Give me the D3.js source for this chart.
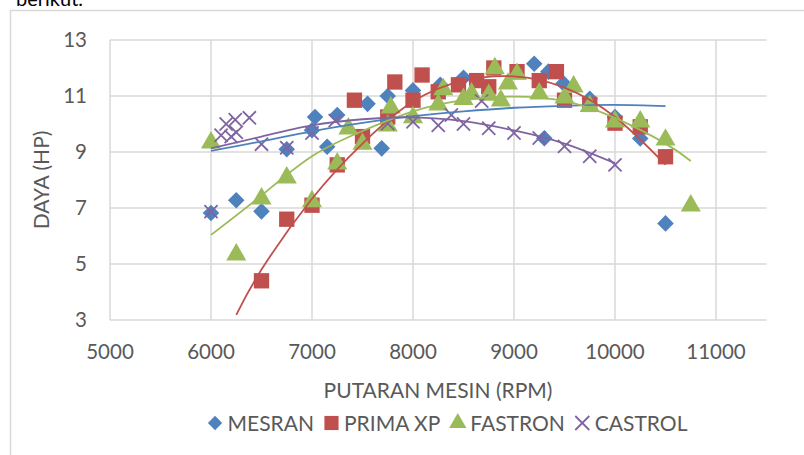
<!DOCTYPE html>
<html>
<head>
<meta charset="utf-8">
<script src="https://cdn.jsdelivr.net/npm/d3@7.9.0/dist/d3.min.js"></script>
<style>
  body { margin: 0; background: #fff; }
  svg { display: block; font-family: Lato, "Open Sans", sans-serif; }
</style>
</head>
<body>
<svg id="chart" width="804" height="455"></svg>
<script>
const seriesNames = ["MESRAN", "PRIMA XP", "FASTRON", "CASTROL"];
const seriesColors = ["#4F81BD", "#C0504D", "#9BBB59", "#8064A2"];
const xTicks = [5000, 6000, 7000, 8000, 9000, 10000, 11000];
const yTicks = [3, 5, 7, 9, 11, 13];

// [rpm, hp]
const mesran = [
  [6000, 6.82], [6250, 7.28], [6500, 6.88], [6750, 9.1], [7000, 9.78], [7030, 10.25],
  [7150, 9.19], [7250, 10.32], [7550, 10.72], [7690, 9.13], [7750, 11.0], [8000, 11.2],
  [8270, 11.4], [8500, 11.65], [9200, 12.15], [9300, 9.49], [9340, 11.87], [9490, 11.45],
  [9750, 10.9], [10000, 10.25], [10250, 9.48], [10500, 6.45]
];
const prima = [
  [6500, 4.4], [6750, 6.6], [7000, 7.1], [7250, 8.54], [7420, 10.85], [7500, 9.55],
  [7750, 10.25], [7820, 11.5], [8000, 10.85], [8090, 11.75], [8250, 11.15], [8450, 11.4],
  [8630, 11.55], [8750, 11.33], [8800, 12.0], [9030, 11.87], [9250, 11.55], [9420, 11.87],
  [9500, 10.85], [9750, 10.7], [10000, 10.03], [10250, 9.9], [10500, 8.83]
];
const fastron = [
  [6000, 9.3], [6250, 5.3], [6500, 7.3], [6750, 8.05], [7000, 7.2], [7250, 8.55],
  [7360, 9.8], [7500, 9.25], [7750, 9.9], [7780, 10.55], [8000, 10.2], [8250, 10.65],
  [8300, 11.2], [8500, 10.85], [8580, 11.05], [8750, 11.0], [8810, 11.95], [8870, 10.8],
  [8940, 11.4], [9030, 11.75], [9250, 11.05], [9500, 10.9], [9590, 11.3], [9750, 10.6],
  [10000, 10.05], [10250, 10.05], [10500, 9.4], [10750, 7.05]
];
const castrol = [
  [6000, 6.87], [6100, 9.6], [6150, 10.0], [6200, 9.55], [6240, 10.15], [6250, 9.7],
  [6380, 10.22], [6500, 9.28], [6750, 9.15], [7000, 9.68], [7230, 10.12], [7750, 10.02],
  [8000, 10.08], [8250, 9.95], [8380, 10.32], [8500, 10.0], [8680, 10.82], [8750, 9.85],
  [9000, 9.68], [9250, 9.5], [9500, 9.2], [9750, 8.85], [10000, 8.54]
];

// trendline values
const mesranTrend = [
  [6000, 9.04], [6500, 9.38], [7000, 9.74], [7500, 10.04], [8000, 10.28], [8500, 10.45],
  [9000, 10.58], [9500, 10.65], [10000, 10.68], [10500, 10.64]
];
const primaTrend = [
  [6250, 3.18], [6500, 4.8], [7000, 7.33], [7500, 9.3], [8000, 10.8], [8500, 11.55],
  [9000, 11.7], [9500, 11.3], [10000, 10.25], [10500, 8.55]
];
const fastronTrend = [
  [6000, 6.04], [6500, 7.45], [7000, 8.85], [7500, 9.75], [8000, 10.45], [8500, 10.85],
  [9000, 10.98], [9500, 10.82], [10000, 10.22], [10500, 9.3], [10750, 8.68]
];
const castrolTrend = [
  [6000, 9.13], [6500, 9.55], [7000, 9.95], [7500, 10.17], [8000, 10.24], [8500, 10.1],
  [9000, 9.77], [9500, 9.3], [10000, 8.6]
];

const allSeries = [mesran, prima, fastron, castrol];
const allTrends = [mesranTrend, primaTrend, fastronTrend, castrolTrend];
const symbols = [d3.symbolDiamond2, d3.symbolSquare, d3.symbolTriangle, d3.symbolX];

const svg = d3.select("#chart");
const grid = "#D9D9D9";
const textColor = "#595959";

const x = d3.scaleLinear().domain([5000, 11500]).range([110, 766.5]);
const y = d3.scaleLinear().domain([3, 13]).range([320, 40]);

// outer frame and clipped caption above it
svg.append("text").attr("x", 16).attr("y", 6).attr("font-size", 20).attr("fill", "#000")
  .text("berikut.");
svg.append("rect").attr("x", 10.5).attr("y", 10.5).attr("width", 820).attr("height", 470)
  .attr("fill", "#fff").attr("stroke", grid).attr("stroke-width", 1.5);

// gridlines
svg.append("g").selectAll("line").data(yTicks).join("line")
  .attr("x1", x(5000)).attr("x2", x(11500))
  .attr("y1", d => y(d)).attr("y2", d => y(d))
  .attr("stroke", grid).attr("stroke-width", 1.5);
svg.append("g").selectAll("line").data(xTicks).join("line")
  .attr("x1", d => x(d)).attr("x2", d => x(d))
  .attr("y1", y(13)).attr("y2", y(3))
  .attr("stroke", grid).attr("stroke-width", 1.5);

// tick labels
svg.append("g").selectAll("text").data(xTicks).join("text")
  .attr("x", d => x(d)).attr("y", 358.5).attr("text-anchor", "middle")
  .attr("font-size", 20.5).attr("fill", textColor).text(d => d);
svg.append("g").selectAll("text").data(yTicks).join("text")
  .attr("x", 87).attr("y", d => y(d) + 7).attr("text-anchor", "end")
  .attr("font-size", 20.5).attr("fill", textColor).text(d => d);

// axis titles
svg.append("text").attr("x", 438).attr("y", 397.5).attr("text-anchor", "middle")
  .attr("font-size", 21).attr("fill", textColor).text("PUTARAN MESIN (RPM)");
svg.append("text").attr("transform", "translate(49,180) rotate(-90)")
  .attr("text-anchor", "middle").attr("font-size", 21).attr("fill", textColor)
  .text("DAYA (HP)");

// markers
function drawMarker(g, i, size) {
  const sym = d3.symbol().type(symbols[i]).size(size);
  if (i === 3) {
    return g.append("path").attr("d", sym()).attr("fill", "none")
      .attr("stroke", seriesColors[i]).attr("stroke-width", 1.8);
  }
  return g.append("path").attr("d", sym()).attr("fill", seriesColors[i]);
}
const markerSizes = [175, 235, 175, 115];
const markerDy = [0, 0, -1, 0];

allSeries.forEach((data, i) => {
  const g = svg.append("g");
  data.forEach(([rx, v]) => {
    const m = g.append("g").attr("transform", `translate(${x(rx)},${y(v) + markerDy[i]})`);
    drawMarker(m, i, markerSizes[i]);
  });
});

// trendlines
const line = d3.line().x(d => x(d[0])).y(d => y(d[1])).curve(d3.curveNatural);
allTrends.forEach((data, i) => {
  svg.append("path").datum(data).attr("d", line)
    .attr("fill", "none").attr("stroke", seriesColors[i]).attr("stroke-width", 1.8);
});

// legend
const legend = svg.append("g").attr("transform", "translate(0,423)");
let lx = 0;
const items = [];
seriesNames.forEach((name, i) => {
  const item = legend.append("g");
  const m = item.append("g").attr("transform", `translate(7.5,0)`);
  drawMarker(m, i, i === 1 ? 200 : 130);
  const t = item.append("text").attr("x", 20).attr("y", 7.5)
    .attr("font-size", 21).attr("fill", textColor).text(name);
  const w = 20 + t.node().getComputedTextLength();
  items.push([item, w]);
});
const gap = 10;
const total = d3.sum(items, d => d[1]) + gap * (items.length - 1);
lx = 447.5 - total / 2;
items.forEach(([item, w]) => {
  item.attr("transform", `translate(${lx},0)`);
  lx += w + gap;
});
</script>
</body>
</html>
